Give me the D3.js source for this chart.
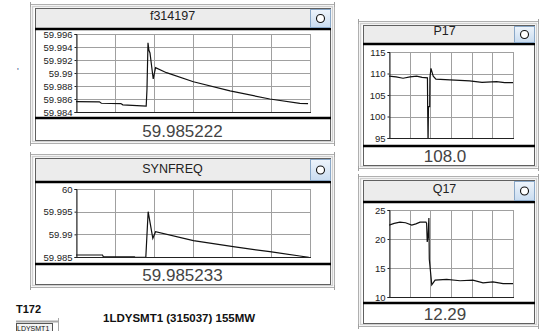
<!DOCTYPE html>
<html>
<head>
<meta charset="utf-8">
<script src="https://cdn.jsdelivr.net/npm/d3@7"></script>
<style>
  body { margin: 0; background: #fff; }
  svg { display: block; font-family: "Liberation Sans", Arial, sans-serif; }
</style>
</head>
<body>
<svg id="chart" width="540" height="331"></svg>
<script>
// time in seconds (window of 60 s), values
var f314197 = [[0, 59.9856], [6, 59.98556], [6.5, 59.98535], [11.5, 59.9853], [12, 59.9851], [18, 59.98492],
  [18.2, 59.9875], [18.46, 59.99466], [18.7, 59.9935], [18.97, 59.99308], [19.8, 59.98908], [20.4, 59.99082],
  [23.2, 59.99005], [30.1, 59.98866], [39.5, 59.98725], [49.7, 59.986], [57.4, 59.98534], [59.5, 59.9853]];
var synfreq = [[0, 59.98544], [6.8, 59.98544], [7, 59.98507], [15, 59.98505], [15.2, 59.98492], [17.9, 59.98492],
  [18.5, 59.995], [19.7, 59.98912], [20.4, 59.99058], [30.1, 59.9886], [40.3, 59.98728], [49.7, 59.98617],
  [57.4, 59.98522], [59.7, 59.98493]];
var p17 = [[0, 109.4], [3.4, 109.2], [6.8, 108.9], [10.2, 109.2], [13.4, 109.4], [16, 109.1], [18.6, 109.0],
  [18.7, 102.3], [18.9, 94], [19.1, 102.3], [19.7, 102.3], [19.8, 109], [20.3, 111.2], [21.4, 109.4],
  [22.7, 108.7], [29.5, 108.5], [39, 108.3], [45, 107.95], [52, 108.1], [56, 107.9], [60, 107.9]];
var q17 = [[0, 22.4], [2.5, 22.7], [5.3, 22.9], [8, 22.8], [11, 22.4], [13, 22.6], [15, 22.9], [17.9, 22.9],
  [18.2, 22.7], [18.5, 19.5], [18.9, 20.5], [19.3, 23.6], [19.5, 16.5], [20.7, 12.1], [22.3, 12.9],
  [27.9, 13.05], [34.4, 12.8], [40.6, 12.9], [45.5, 12.45], [50.3, 12.6], [55.2, 12.3], [60, 12.3]];

var titles = ["f314197", "SYNFREQ", "P17", "Q17"];
var readouts = ["59.985222", "59.985233", "108.0", "12.29"];
var ticks1 = [59.984, 59.986, 59.988, 59.99, 59.992, 59.994, 59.996];
var ticks2 = [59.985, 59.99, 59.995, 60];
var ticks3 = [95, 100, 105, 110, 115];
var ticks4 = [10, 15, 20, 25];

// panel layout (screen geometry only)
var panels = [
  { data: f314197, ticks: ticks1, box: [35, 8, 330, 140], bar: 29, plot: [76, 34, 310, 112], sep: 118, tc: 172.5, vc: 182.5 },
  { data: synfreq, ticks: ticks2, box: [35, 158, 330, 284], bar: 182, plot: [76, 189, 310, 257], sep: 264, tc: 172.5, vc: 182.5 },
  { data: p17, ticks: ticks3, box: [363, 25, 534, 165], bar: 44, plot: [389, 52, 513, 138], sep: 146, tc: 444.5, vc: 445 },
  { data: q17, ticks: ticks4, box: [363, 180, 534, 323], bar: 202, plot: [389, 210, 513, 297], sep: 303, tc: 444.5, vc: 445 }
];

var svg = d3.select("#chart");

var defs = svg.append("defs");
var grad = defs.append("linearGradient").attr("id", "btn").attr("x1", 0).attr("y1", 0).attr("x2", 0).attr("y2", 1);
grad.append("stop").attr("offset", "0%").attr("stop-color", "#eef4fb");
grad.append("stop").attr("offset", "100%").attr("stop-color", "#c9dcf0");

panels.forEach(function (p, i) {
  var b = p.box;
  var g = svg.append("g");

  // outer splitter frame
  g.append("rect").attr("x", b[0] - 4.5).attr("y", b[1] - 3.5)
    .attr("width", b[2] - b[0] + 9).attr("height", b[3] - b[1] + 7)
    .attr("fill", "none").attr("stroke", "#b0b0b0").attr("stroke-width", 1);
  g.append("rect").attr("x", b[0] - 2.5).attr("y", b[1] - 1.5)
    .attr("width", b[2] - b[0] + 5).attr("height", b[3] - b[1] + 3)
    .attr("fill", "none").attr("stroke", "#d0d0d0").attr("stroke-width", 1.5);
  [[b[0] - 5, b[1] - 6], [b[2] + 4, b[1] - 6], [b[0] - 5, b[3] + 1], [b[2] + 4, b[3] + 1]].forEach(function (c) {
    g.append("line").attr("x1", c[0] + 0.5).attr("x2", c[0] + 0.5).attr("y1", c[1]).attr("y2", c[1] + 5)
      .attr("stroke", "#a0a0a0");
  });

  // panel body
  g.append("rect").attr("x", b[0] + 0.5).attr("y", b[1] + 0.5)
    .attr("width", b[2] - b[0]).attr("height", b[3] - b[1])
    .attr("fill", "#fff").attr("stroke", "#606060");
  g.append("rect").attr("x", b[0] + 1).attr("y", b[1] + 1)
    .attr("width", b[2] - b[0] - 1).attr("height", p.bar - b[1] - 1)
    .attr("fill", "#ececec");
  g.append("line").attr("x1", b[0]).attr("x2", b[2] + 1).attr("y1", p.bar).attr("y2", p.bar)
    .attr("stroke", "#000").attr("stroke-width", 2.5);
  g.append("line").attr("x1", b[0]).attr("x2", b[2] + 1).attr("y1", p.sep).attr("y2", p.sep)
    .attr("stroke", "#000").attr("stroke-width", 2.5);

  // title and button
  g.append("text").attr("x", p.tc).attr("y", p.bar - 9).attr("text-anchor", "middle")
    .attr("font-size", "12.5px").attr("fill", "#222").text(titles[i]);
  var bx = b[2] - 20, by = b[1] + 1, bh = p.bar - b[1] - 2;
  g.append("rect").attr("x", bx + 0.5).attr("y", by + 0.5).attr("width", 20).attr("height", bh - 1)
    .attr("fill", "url(#btn)").attr("stroke", "#8aa8c8");
  g.append("circle").attr("cx", bx + 10.5).attr("cy", by + bh / 2).attr("r", 4)
    .attr("fill", "#fff").attr("stroke", "#111").attr("stroke-width", 1.1);

  // readout
  g.append("text").attr("x", p.vc).attr("y", b[3] - 3.5).attr("text-anchor", "middle")
    .attr("font-size", "17px").attr("fill", "#444").text(readouts[i]);

  // trend
  var pl = p.plot;
  var x = d3.scaleLinear().domain([0, 60]).range([pl[0], pl[2]]);
  var y = d3.scaleLinear().domain(d3.extent(p.ticks)).range([pl[3], pl[1]]);

  var grid = g.append("g").attr("stroke", "#a0a0a0").attr("stroke-width", 1);
  d3.range(0, 61, 10).forEach(function (t) {
    grid.append("line").attr("x1", Math.round(x(t)) + 0.5).attr("x2", Math.round(x(t)) + 0.5)
      .attr("y1", pl[1]).attr("y2", pl[3]);
  });
  p.ticks.forEach(function (v) {
    grid.append("line").attr("x1", pl[0]).attr("x2", pl[2])
      .attr("y1", Math.round(y(v)) + 0.5).attr("y2", Math.round(y(v)) + 0.5);
  });

  var clipId = "clip" + i;
  defs.append("clipPath").attr("id", clipId).append("rect")
    .attr("x", pl[0]).attr("y", pl[1]).attr("width", pl[2] - pl[0]).attr("height", pl[3] - pl[1] + 1);

  var line = d3.line().x(function (d) { return x(d[0]); }).y(function (d) { return y(d[1]); });
  g.append("path").datum(p.data).attr("clip-path", "url(#" + clipId + ")")
    .attr("d", line).attr("fill", "none").attr("stroke", "#111").attr("stroke-width", 1.2);

  // axis lines on left and bottom
  var axis = d3.axisLeft(y).tickValues(p.ticks).tickSize(2).tickPadding(2)
    .tickFormat(function (v) { return d3.format("")(+v.toFixed(3)); });
  var ag = g.append("g").attr("transform", "translate(" + (pl[0] + 0.5) + ",0)").call(axis);
  ag.select(".domain").attr("stroke", "#222");
  ag.selectAll(".tick line").attr("stroke", "#222");
  ag.selectAll(".tick text").attr("font-size", "9.5px").attr("fill", "#222")
    .attr("font-family", "'Liberation Sans', Arial, sans-serif");
  g.append("line").attr("x1", pl[0]).attr("x2", pl[2] + 1).attr("y1", pl[3] + 0.5).attr("y2", pl[3] + 0.5)
    .attr("stroke", "#222");
});

// loose labels at the bottom
svg.append("text").attr("x", 16).attr("y", 312.5).attr("font-size", "11px").attr("font-weight", "bold")
  .attr("fill", "#111").text("T172");
svg.append("line").attr("x1", 16).attr("x2", 58).attr("y1", 321.5).attr("y2", 321.5).attr("stroke", "#a8a8a8").attr("stroke-width", 2);
svg.append("rect").attr("x", 16.5).attr("y", 323.5).attr("width", 36).attr("height", 9)
  .attr("fill", "#f4f4f4").attr("stroke", "#555");
svg.append("line").attr("x1", 58.5).attr("x2", 58.5).attr("y1", 318).attr("y2", 331).attr("stroke", "#a8a8a8");
svg.append("text").attr("x", 17).attr("y", 331).attr("font-size", "7px").attr("fill", "#111").text("LDYSMT1");
svg.append("text").attr("x", 103).attr("y", 322).attr("font-size", "11.5px").attr("font-weight", "bold")
  .attr("fill", "#111").text("1LDYSMT1 (315037) 155MW");
svg.append("text").attr("x", 17).attr("y", 74).attr("font-size", "9px").attr("fill", "#2a4a8a").text("'");
</script>
</body>
</html>
